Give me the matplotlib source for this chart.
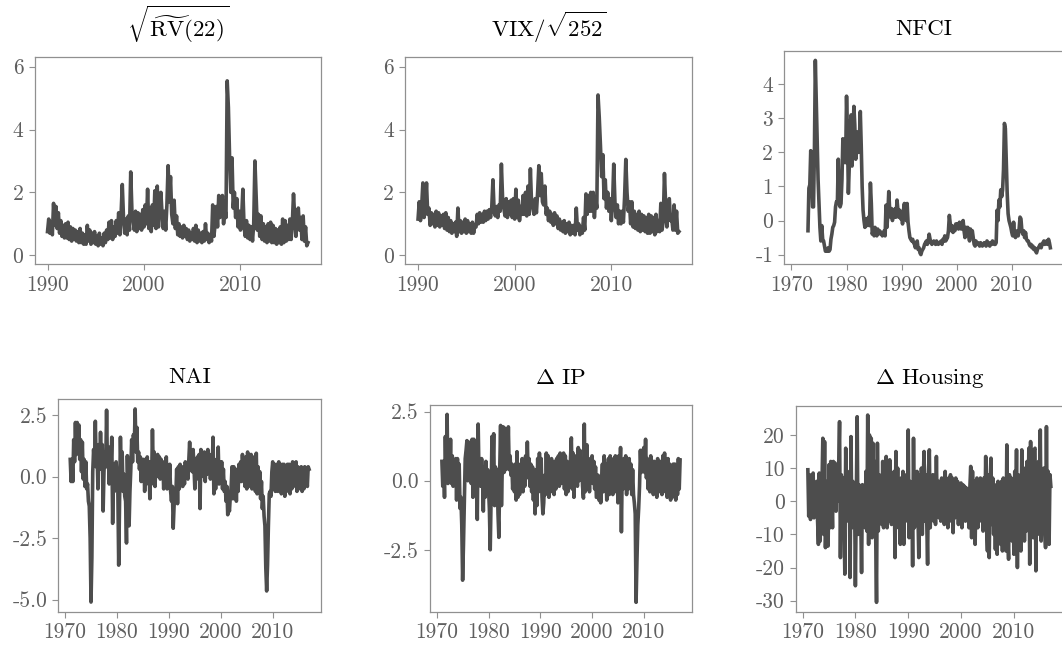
import matplotlib
matplotlib.use('Agg')
import matplotlib.pyplot as plt
import numpy as np

plt.rcParams['font.family'] = 'cmr10'
plt.rcParams['mathtext.fontset'] = 'cm'
plt.rcParams['axes.unicode_minus'] = False
plt.rcParams['axes.formatter.use_mathtext'] = True

# values, equally spaced inside each year
rv_start, rv_per_year = 1990, 8
rv = [
    0.75, 1.15, 0.70, 1.05, 0.65, 1.65, 0.95, 1.55,
    0.85, 1.35, 0.70, 1.10, 0.60, 0.95, 0.55, 1.00,
    0.55, 1.05, 0.50, 0.90, 0.45, 0.85, 0.50, 0.80,
    0.45, 0.75, 0.40, 0.85, 0.40, 0.70, 0.35, 0.65,
    0.35, 0.95, 0.45, 0.80, 0.35, 0.70, 0.40, 0.75,
    0.35, 0.60, 0.30, 0.70, 0.35, 0.55, 0.30, 0.70,
    0.40, 0.80, 0.50, 1.05, 0.55, 1.10, 0.50, 0.90,
    0.60, 1.10, 0.70, 1.35, 0.65, 1.30, 2.25, 1.20,
    0.70, 1.15, 0.65, 1.25, 0.80, 2.65, 1.40, 1.10,
    0.80, 1.40, 0.75, 1.35, 0.85, 1.30, 0.80, 1.45,
    0.90, 1.60, 1.00, 2.10, 0.85, 1.50, 0.75, 1.60,
    0.95, 2.05, 0.85, 2.20, 0.90, 1.70, 2.00, 1.30,
    0.85, 1.40, 0.80, 1.60, 2.85, 1.70, 2.50, 1.30,
    1.00, 1.75, 0.85, 1.25, 0.65, 1.00, 0.60, 0.90,
    0.55, 0.95, 0.60, 0.85, 0.50, 0.80, 0.45, 0.70,
    0.50, 0.85, 0.45, 0.95, 0.40, 0.80, 0.45, 0.70,
    0.40, 0.75, 0.45, 1.00, 0.50, 0.70, 0.40, 0.65,
    0.45, 1.60, 0.60, 1.00, 1.55, 0.90, 1.90, 1.20,
    1.30, 1.90, 1.00, 1.50, 1.20, 5.55, 4.70, 3.10,
    2.00, 3.10, 1.50, 2.00, 1.20, 1.80, 0.90, 1.40,
    0.80, 1.20, 2.10, 0.90, 0.60, 1.10, 0.55, 0.95,
    0.50, 0.90, 0.45, 1.00, 3.00, 1.90, 0.80, 1.30,
    0.60, 1.25, 0.50, 1.00, 0.45, 0.90, 0.40, 1.00,
    0.45, 1.05, 0.40, 0.95, 0.40, 0.85, 0.35, 0.80,
    0.40, 0.90, 0.35, 1.15, 0.40, 1.10, 0.45, 0.95,
    0.50, 1.15, 0.50, 1.00, 1.95, 1.20, 0.60, 1.30,
    1.50, 0.80, 1.20, 0.50, 1.25, 0.45, 0.90, 0.30,
    0.40,
]

vix_start, vix_per_year = 1990, 8
vix = [
    1.15, 1.70, 1.10, 1.55, 2.30, 1.20, 1.55, 2.30,
    1.30, 1.50, 0.95, 1.35, 1.00, 1.30, 0.90, 1.40,
    0.95, 1.35, 0.90, 1.25, 0.95, 1.30, 0.85, 1.35,
    0.80, 1.20, 0.75, 1.10, 0.70, 1.00, 0.75, 1.05,
    0.60, 1.50, 0.75, 1.10, 0.70, 1.05, 0.75, 1.15,
    0.70, 1.10, 0.75, 1.00, 0.70, 1.05, 0.70, 0.95,
    0.90, 1.30, 1.00, 1.35, 1.05, 1.30, 1.05, 1.40,
    1.10, 1.40, 1.15, 1.45, 1.20, 1.50, 2.40, 1.40,
    1.25, 1.55, 1.20, 1.60, 1.40, 2.90, 1.80, 1.50,
    1.25, 1.80, 1.20, 1.70, 1.30, 1.75, 1.20, 1.80,
    1.15, 2.10, 1.20, 1.75, 1.10, 1.55, 1.30, 1.90,
    1.30, 2.00, 1.25, 2.20, 1.30, 2.75, 1.60, 1.50,
    1.30, 1.80, 1.35, 2.00, 2.85, 1.90, 2.60, 1.70,
    1.60, 2.20, 1.30, 1.50, 1.10, 1.40, 1.05, 1.30,
    0.95, 1.35, 1.00, 1.25, 0.85, 1.15, 0.80, 1.05,
    0.75, 1.10, 0.70, 1.00, 0.75, 1.05, 0.65, 0.95,
    0.70, 0.95, 0.65, 1.50, 0.80, 1.00, 0.65, 0.90,
    0.70, 1.20, 0.80, 1.95, 1.30, 1.90, 1.40, 2.00,
    1.40, 2.00, 1.20, 1.80, 1.50, 5.10, 4.40, 3.50,
    2.50, 3.20, 1.80, 2.40, 1.50, 2.00, 1.40, 1.80,
    1.10, 1.60, 2.90, 1.70, 1.20, 1.60, 1.00, 1.40,
    1.00, 1.40, 1.05, 1.85, 3.05, 2.00, 1.40, 1.70,
    1.00, 1.70, 0.90, 1.40, 0.85, 1.30, 0.80, 1.40,
    0.75, 1.30, 0.80, 1.25, 0.75, 1.20, 0.70, 1.30,
    0.70, 1.25, 0.75, 1.20, 0.65, 1.30, 0.75, 1.10,
    0.75, 1.65, 0.80, 1.10, 2.60, 1.60, 0.90, 1.40,
    1.80, 1.10, 1.20, 0.80, 1.60, 0.80, 1.40, 0.70,
    0.75,
]

nfci_start, nfci_per_year = 1973, 6
nfci = [
    -0.30, 0.95, 1.05, 2.05, 1.40, 0.40,
    0.40, 2.00, 4.70, 3.50, 2.40, 1.20,
    0.50, -0.20, -0.60, -0.15, -0.55, -0.60,
    -0.75, -0.90, -0.85, -0.90, -0.80, -0.90,
    -0.85, -0.55, -0.40, -0.20, -0.15, -0.05,
    0.40, 0.55, 0.50, 1.80, 0.60, 0.40,
    0.50, 1.20, 2.40, 1.70, 2.30, 1.70,
    3.65, 2.50, 0.80, 1.60, 2.80, 3.10,
    1.60, 2.50, 3.35, 2.80, 1.80, 2.20,
    2.60, 2.00, 2.40, 3.20, 2.20, 1.00,
    0.30, 0.00, -0.20, 0.05, -0.15, -0.05,
    0.10, -0.15, 1.10, 0.50, -0.40, -0.30,
    -0.45, -0.20, -0.30, -0.45, -0.25, -0.35,
    -0.30, -0.40, -0.35, -0.45, -0.40, -0.30,
    -0.45, 0.45, -0.20, 0.20, 0.85, 0.30,
    0.10, 0.35, 0.00, 0.25, 0.10, 0.35,
    0.10, 0.60, 0.30, 0.10, 0.30, 0.05,
    0.20, -0.10, 0.30, 0.50, 0.20, 0.00,
    0.50, -0.05, -0.30, -0.50, -0.55, -0.60,
    -0.55, -0.65, -0.70, -0.80, -0.65, -0.60,
    -0.85, -0.80, -0.95, -1.00, -0.90, -0.85,
    -0.80, -0.70, -0.65, -0.60, -0.70, -0.60,
    -0.40, -0.55, -0.65, -0.70, -0.65, -0.60,
    -0.65, -0.70, -0.60, -0.65, -0.70, -0.65,
    -0.65, -0.60, -0.70, -0.55, -0.60, -0.45,
    -0.60, -0.55, -0.50, -0.30, 0.15, -0.10,
    -0.30, -0.15, -0.35, -0.20, -0.30, -0.10,
    -0.20, -0.10, -0.25, -0.05, -0.15, -0.25,
    -0.10, 0.00, -0.30, -0.50, -0.20, -0.35,
    -0.20, -0.45, -0.60, -0.25, -0.45, -0.30,
    -0.50, -0.70, -0.75, -0.60, -0.70, -0.65,
    -0.70, -0.75, -0.65, -0.70, -0.75, -0.70,
    -0.65, -0.70, -0.75, -0.60, -0.65, -0.70,
    -0.75, -0.65, -0.70, -0.60, -0.65, -0.70,
    -0.70, -0.65, 0.30, 0.00, 0.60, 0.40,
    0.90, 0.70, 0.90, 1.50, 2.85, 2.70,
    1.80, 0.80, 0.20, 0.00, -0.10, -0.20,
    -0.35, -0.45, -0.05, -0.40, -0.50, -0.40,
    -0.30, -0.45, -0.25, 0.10, 0.05, -0.30,
    -0.40, -0.30, -0.50, -0.35, -0.55, -0.60,
    -0.60, -0.70, -0.75, -0.70, -0.80, -0.75,
    -0.85, -0.80, -0.90, -0.95, -0.85, -0.80,
    -0.75, -0.70, -0.80, -0.70, -0.65, -0.60,
    -0.70, -0.65, -0.60, -0.70, -0.55, -0.65,
    -0.80,
]

nai_start, nai_per_year = 1971, 6
nai = [
    0.70, -0.20, 0.60, -0.20, 1.50, 0.60,
    2.20, 0.90, 2.20, 1.20, 2.10, 0.70,
    1.50, 0.20, 1.40, -0.10, 0.70, -0.40,
    0.60, -0.50, -0.30, -1.00, -1.20, -2.50,
    -5.10, -3.30, 0.20, 1.10, 0.50, 2.25,
    0.40, 1.00, -0.50, 1.30, 0.30, 1.80,
    0.30, 1.30, -1.40, 0.20, 1.00, 0.40,
    2.70, 0.40, 0.90, -0.30, 1.20, 0.40,
    1.60, -1.90, 0.50, -0.60, 0.00, 0.60,
    0.00, -0.50, -3.60, -1.00, 1.60, 0.00,
    1.00, -0.60, 0.10, -0.80, -1.00, -2.70,
    0.85, -0.50, -2.00, -0.60, 0.30, 1.50,
    0.60, 1.70, 1.20, 2.75, 1.00, 2.00,
    0.60, 1.00, 0.30, 0.80, -0.20, 0.70,
    0.00, 0.70, -0.60, 0.50, -0.30, 0.80,
    -0.20, 0.60, -0.90, 0.40, -0.30, 1.90,
    0.20, 1.00, -0.40, 0.70, 0.00, 0.90,
    0.30, 0.80, -0.10, 0.70, 0.10, 0.60,
    -0.50, 0.40, -0.20, 0.80, -0.50, 0.20,
    -0.30, 0.50, -0.60, -1.00, -0.40, -2.10,
    -1.20, -0.50, -0.80, 0.30, -1.10, 0.40,
    -0.50, 0.50, -0.30, 0.40, -0.40, 0.30,
    -0.30, 0.60, 0.00, 0.50, -0.10, 0.70,
    1.40, 0.30, 0.90, 0.20, 1.10, 0.40,
    -0.50, 0.60, -0.10, 0.80, 0.00, 0.90,
    -1.30, 1.10, 0.20, 0.80, 0.00, 1.00,
    -0.20, 0.80, 0.10, 1.10, 0.20, 0.90,
    -0.10, 0.70, 0.20, 1.60, -0.70, 0.50,
    -0.50, 0.70, 0.00, 1.20, -0.30, 0.60,
    -0.20, 0.60, -0.50, 0.30, -0.60, -0.20,
    -1.00, -0.40, -1.55, -1.20, -1.40, -0.80,
    -0.40, 0.40, -0.90, 0.40, -0.60, 0.10,
    -1.00, 0.30, -0.60, 0.50, -0.20, 0.60,
    -0.20, 0.90, 0.10, 0.70, -0.40, 0.80,
    -0.50, 1.00, 0.00, 0.80, -0.40, 0.90,
    -0.50, 0.80, -0.20, 0.60, -0.60, 0.95,
    -0.70, 0.40, -0.60, 0.20, -0.90, -0.20,
    -1.30, -0.80, -1.60, -2.00, -3.70, -4.65,
    -3.60, -2.00, -0.70, -0.60, -0.80, 0.20,
    0.60, -0.40, 0.30, -0.60, 0.50, -0.30,
    -0.60, 0.60, -0.50, 0.20, -0.70, 0.50,
    -0.40, 0.50, -0.80, 0.40, -0.60, 0.50,
    -0.30, 0.50, -0.70, 0.40, -0.50, 0.60,
    -0.40, 0.50, -0.30, 0.60, -0.60, 0.40,
    -0.50, 0.30, -0.40, 0.40, -0.60, 0.30,
    -0.50, 0.40, -0.30, 0.20, -0.40, 0.40,
    0.30,
]

ip_start, ip_per_year = 1971, 6
ip = [
    0.70, -0.20, 0.60, -0.60, 1.60, 0.20,
    2.40, -0.10, 1.30, 0.20, 1.50, -0.10,
    0.90, -0.20, 0.70, -0.10, 0.80, -0.70,
    0.80, -0.30, 0.60, -1.00, -0.60, -1.60,
    -3.60, -2.30, -0.80, 0.80, 1.10, 1.45,
    0.00, 1.40, 0.30, 0.80, -0.10, 1.50,
    -0.60, 1.50, 0.50, 0.90, 0.10, -1.40,
    2.05, 0.20, 0.80, -0.20, 0.80, 0.20,
    -1.10, 0.50, -0.60, 0.70, -0.30, 0.40,
    -0.30, -1.00, -2.50, -0.60, 1.60, 0.40,
    1.70, -0.90, 0.50, -0.70, 0.40, -1.20,
    -2.05, 0.40, 2.00, -0.90, 0.50, 1.95,
    0.30, 1.90, 0.40, 1.20, 0.50, 1.95,
    0.40, 0.90, 0.20, 0.60, -0.30, 0.50,
    -0.40, 0.60, -0.70, 1.05, -0.60, 0.40,
    -0.50, 0.60, -0.30, 0.80, -0.40, 0.70,
    -0.20, 0.90, 0.10, 1.40, 0.20, 0.80,
    -0.20, 0.60, -0.40, 0.50, -0.70, 0.30,
    -1.20, 0.40, -0.90, 0.80, -0.40, 1.00,
    -0.20, 0.80, -0.60, -1.20, -0.80, 0.20,
    -0.50, 1.00, -0.30, 0.90, -0.60, 0.70,
    -0.40, 0.80, -0.20, 0.60, -0.50, 0.70,
    -0.30, 0.80, 0.00, 0.90, -0.20, 1.00,
    -0.10, 0.80, 0.00, 1.00, -0.30, 0.90,
    -0.50, 0.70, -0.40, 0.60, -0.20, 0.80,
    1.55, -0.30, 1.00, -0.60, 0.90, 0.10,
    0.70, -0.20, 1.20, 0.00, 1.10, 0.20,
    0.60, -0.20, -0.63, 2.05, -0.40, 0.70,
    1.30, -0.30, 0.60, -0.40, 0.80, 0.00,
    0.90, -0.10, 0.70, -0.30, 0.50, -0.60,
    -0.60, 0.20, -0.70, 0.10, -0.80, 0.00,
    0.60, -0.40, 0.90, -0.30, 0.60, -0.70,
    -0.20, 0.80, -0.50, 0.90, -0.10, 0.70,
    -0.50, 0.80, -0.30, 0.90, -0.40, 0.60,
    -0.80, 0.90, -0.20, 1.20, -1.85, 0.50,
    -0.30, 0.80, -0.20, 0.90, -0.50, 0.50,
    -0.30, 0.80, -0.10, 0.60, -0.50, 0.40,
    -0.50, -0.80, -1.20, -4.40, -2.90, -1.60,
    -1.00, -0.20, 1.10, 0.30, 1.10, 0.40,
    1.20, 0.30, 1.50, 0.10, 0.80, -0.30,
    0.60, -0.40, 0.90, -0.20, 0.70, -0.50,
    0.70, -0.30, 0.50, -0.60, 0.80, -0.20,
    0.60, -0.40, 0.70, -0.50, 0.90, -0.30,
    1.00, -0.40, 0.60, -0.60, 0.80, -0.20,
    0.60, -0.70, 0.50, -0.60, 0.60, -0.30,
    0.60, -0.70, 0.40, -0.50, 0.80, -0.30,
    0.75,
]

housing_start, housing_per_year = 1971, 6
housing = [
    9.5, -4.5, 8.0, -5.5, 6.0, -4.0,
    8.5, -5.0, 5.5, -3.5, 6.0, -5.5,
    -13.0, 8.5, -12.0, 5.0, 4.0, 19.0,
    -10.0, 18.0, -14.0, 0.0, 6.0, -13.5,
    11.0, -8.0, 12.0, 2.0, -8.0, 12.0,
    3.0, 11.5, -3.0, 8.0, 0.0, 10.0,
    24.0, -17.0, 8.0, -5.0, 7.0, -3.0,
    -22.0, 16.0, -6.0, 9.0, -4.0, 7.0,
    -23.0, 19.5, -8.0, 6.0, -5.0, 3.0,
    -25.5, 0.0, 25.5, -10.0, 5.0, 0.0,
    -4.0, -21.5, 5.0, -3.0, 4.0, -8.0,
    9.0, -9.0, 26.0, -13.0, 20.0, -8.0,
    19.0, -11.0, 17.5, -5.0, 12.0, -9.0,
    -30.5, 17.5, -9.0, 8.0, -6.0, 5.0,
    -7.0, 12.0, -8.0, 6.0, -4.0, 13.5,
    -8.0, 8.0, -6.0, 12.5, 3.0, -7.0,
    5.0, -5.0, 9.0, -17.0, 15.0, -3.0,
    10.0, -8.0, 6.0, -13.0, 7.0, -4.0,
    9.0, -13.0, 6.0, -6.0, 8.0, -5.0,
    21.5, -11.0, 6.0, -8.0, 4.0, -19.5,
    19.0, -8.0, 8.0, -6.0, 9.0, -3.0,
    -17.0, 8.0, -5.0, 10.0, -10.0, 6.0,
    15.0, -6.0, 8.0, -5.0, -19.0, 9.0,
    15.5, -8.0, 6.0, -5.0, 8.0, -6.0,
    5.0, -7.0, 13.5, -4.0, 6.0, -5.0,
    6.0, -6.0, 7.0, -4.0, 6.5, -7.0,
    9.0, -5.0, 6.0, -8.0, 7.0, -5.0,
    8.0, -6.0, 7.0, -9.5, 6.0, -5.0,
    7.0, -4.0, 6.0, -7.0, 5.0, -4.0,
    5.5, -8.0, 5.0, -5.0, 4.5, -6.0,
    4.0, -5.0, 3.5, -8.0, 4.0, 10.5,
    -11.0, 9.0, -6.0, 6.0, -13.0, 5.0,
    7.0, -8.0, 6.0, -6.0, 7.0, -5.0,
    5.0, -9.0, 7.0, -7.0, 13.5, -8.0,
    -15.0, 8.0, -17.0, 6.0, 13.0, -7.0,
    7.0, -10.0, 5.0, -14.5, 4.0, -16.0,
    6.0, -12.0, 5.0, -13.0, 6.0, -15.0,
    7.0, -12.0, 6.0, -15.0, 17.0, -10.0,
    -17.5, 8.0, -10.0, 7.0, -12.0, 6.0,
    -16.0, 9.0, -8.0, 15.5, -20.0, 8.0,
    -10.0, 7.0, -15.0, 15.5, -8.0, 9.0,
    -12.0, 10.0, -9.0, 12.0, -7.0, 16.0,
    -19.0, 18.0, -10.0, 9.0, -11.0, 15.5,
    16.0, -21.0, 10.0, -8.0, 12.0, -10.0,
    21.5, -12.0, 8.0, -9.0, 10.0, -8.0,
    -14.0, 22.5, -10.0, 9.0, -13.0, 8.0,
    4.5,
]

titles = [r'$\sqrt{\widetilde{\mathrm{RV}}(22)}$', r'VIX$/\sqrt{252}$', 'NFCI',
          'NAI', r'$\Delta$ IP', r'$\Delta$ Housing']
top_years = [1990, 2000, 2010]
bottom_years = [1970, 1980, 1990, 2000, 2010]
rv_yticks = [0, 2, 4, 6]
nfci_yticks = [-1, 0, 1, 2, 3, 4]
nai_yticks = [-5.0, -2.5, 0.0, 2.5]
ip_yticks = [-2.5, 0.0, 2.5]
housing_yticks = [-30, -20, -10, 0, 10, 20]

series = [
    (rv_start, rv_per_year, rv, top_years, rv_yticks, '{:.0f}'),
    (vix_start, vix_per_year, vix, top_years, rv_yticks, '{:.0f}'),
    (nfci_start, nfci_per_year, nfci, bottom_years, nfci_yticks, '{:.0f}'),
    (nai_start, nai_per_year, nai, bottom_years, nai_yticks, '{:.1f}'),
    (ip_start, ip_per_year, ip, bottom_years, ip_yticks, '{:.1f}'),
    (housing_start, housing_per_year, housing, bottom_years, housing_yticks, '{:.0f}'),
]

# axes boxes in pixels: left, right, top, bottom
W, H = 1062, 650
boxes = [(34.5, 321, 57, 264.3), (405, 692, 57, 264.3), (784.3, 1063, 50.7, 264.3),
         (58.3, 321, 399.3, 611.7), (430, 692, 405, 611.7), (795.7, 1063, 405.7, 611.7)]
title_base = [37, 37, 35, 383, 383.5, 384]

line_color = '#4d4d4d'
spine_color = '#909090'
label_color = '#5f5f5f'

fig = plt.figure(figsize=(W / 100, H / 100), dpi=100)
axes = []
for i, (start, per, vals, xt, yt, fmt) in enumerate(series):
    l, r, t, b = boxes[i]
    ax = fig.add_axes([l / W, 1 - b / H, (r - l) / W, (b - t) / H])
    vals = np.array(vals)
    x = start + np.arange(len(vals)) / per
    ax.plot(x, vals, color=line_color, lw=2.6, solid_joinstyle='round')
    ax.set_xticks(xt, [str(v) for v in xt])
    ax.set_yticks(yt, [fmt.format(v) for v in yt])
    for s in ax.spines.values():
        s.set_color(spine_color)
        s.set_linewidth(0.9)
    ax.tick_params(direction='out', length=4, width=0.8, color=spine_color,
                   labelcolor=label_color, labelsize=15.5, pad=4)
    ax.set_title(titles[i], fontsize=16.5, pad=(t - title_base[i]) * 0.72)
    axes.append(ax)

axes[0].set_ylim(-0.29, 6.31)
axes[1].set_ylim(-0.29, 6.31)
axes[2].set_xlim(axes[3].get_xlim())

fig.savefig('out.png', dpi=100)
